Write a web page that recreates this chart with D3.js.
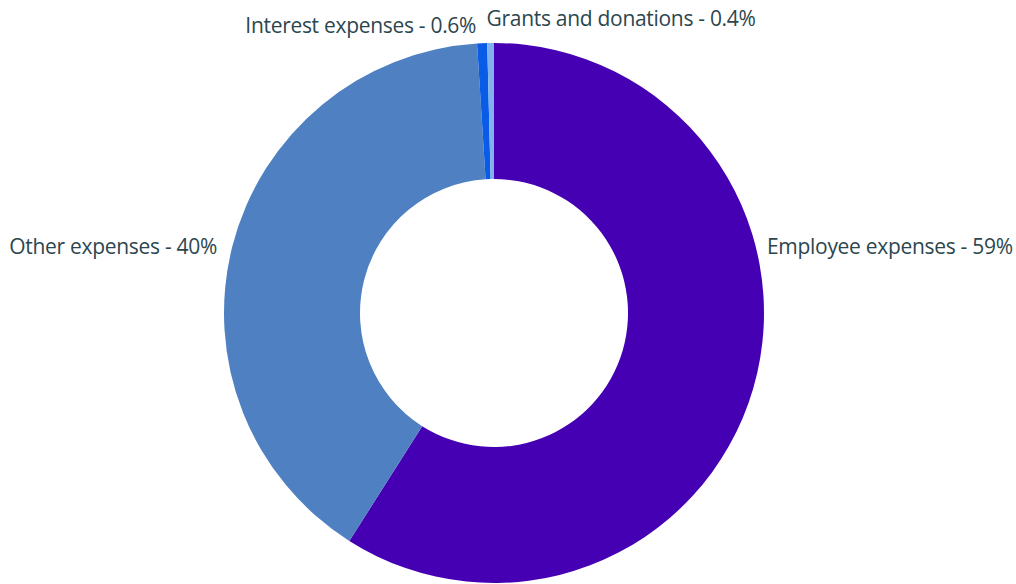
<!DOCTYPE html>
<html>
<head>
<meta charset="utf-8">
<script src="https://cdn.jsdelivr.net/npm/d3@7"></script>
<style>
  html, body { margin: 0; padding: 0; background: #fff; }
  svg { display: block; }
  .label { font-family: "Open Sans", sans-serif; font-size: 21px; fill: #2c464e; letter-spacing: -0.3px; }
</style>
</head>
<body>
<svg id="chart" width="1016" height="584"></svg>
<script>
// Expense breakdown, share of total (%)
const categories = ["Employee expenses", "Other expenses", "Interest expenses", "Grants and donations"];
const shares = [59, 40, 0.6, 0.4];
const colors = ["#4600b4", "#4f81c2", "#0a5ce6", "#80b3ee"];

const width = 1016, height = 584;
const cx = 494, cy = 313;
const outerR = 270, innerR = 134;

const svg = d3.select("#chart");
const g = svg.append("g").attr("transform", `translate(${cx},${cy})`);

const data = categories.map((c, i) => ({ name: c, value: shares[i], color: colors[i] }));

const pie = d3.pie().sort(null).value(d => d.value);
const arc = d3.arc().innerRadius(innerR).outerRadius(outerR);
const arcs = pie(data);

g.selectAll("path.slice")
  .data(arcs)
  .join("path")
  .attr("class", "slice")
  .attr("d", arc)
  .attr("fill", d => d.data.color);

// Label format: whole percent for large shares, one decimal for small ones
const fmt = v => (v >= 10 ? d3.format(".0f")(v) : d3.format(".1f")(v)) + "%";

// Large slices get labels beside the ring; thin slices get labels stacked above it
const outerEdge = d3.arc().innerRadius(outerR).outerRadius(outerR);
let smallIndex = 0;
const placed = arcs.map(a => {
  const mid = (a.startAngle + a.endAngle) / 2;
  const right = Math.sin(mid) >= 0;
  if (a.data.value >= 10) {
    return {
      text: `${a.data.name} - ${fmt(a.data.value)}`,
      x: right ? outerR + 3 : -outerR - 7,
      y: -outerR * 0.25 + 8,
      anchor: right ? "start" : "end"
    };
  }
  const [px] = outerEdge.centroid(a);
  const k = smallIndex++;
  return {
    text: `${a.data.name} - ${fmt(a.data.value)}`,
    x: k === 0 ? px - 6 : px - 4,
    y: -outerR - 10 - k * 7,
    anchor: k === 0 ? "end" : "start"
  };
});

g.selectAll("text.label")
  .data(placed)
  .join("text")
  .attr("class", "label")
  .attr("x", d => d.x)
  .attr("y", d => d.y)
  .attr("text-anchor", d => d.anchor)
  .text(d => d.text);
</script>
</body>
</html>
